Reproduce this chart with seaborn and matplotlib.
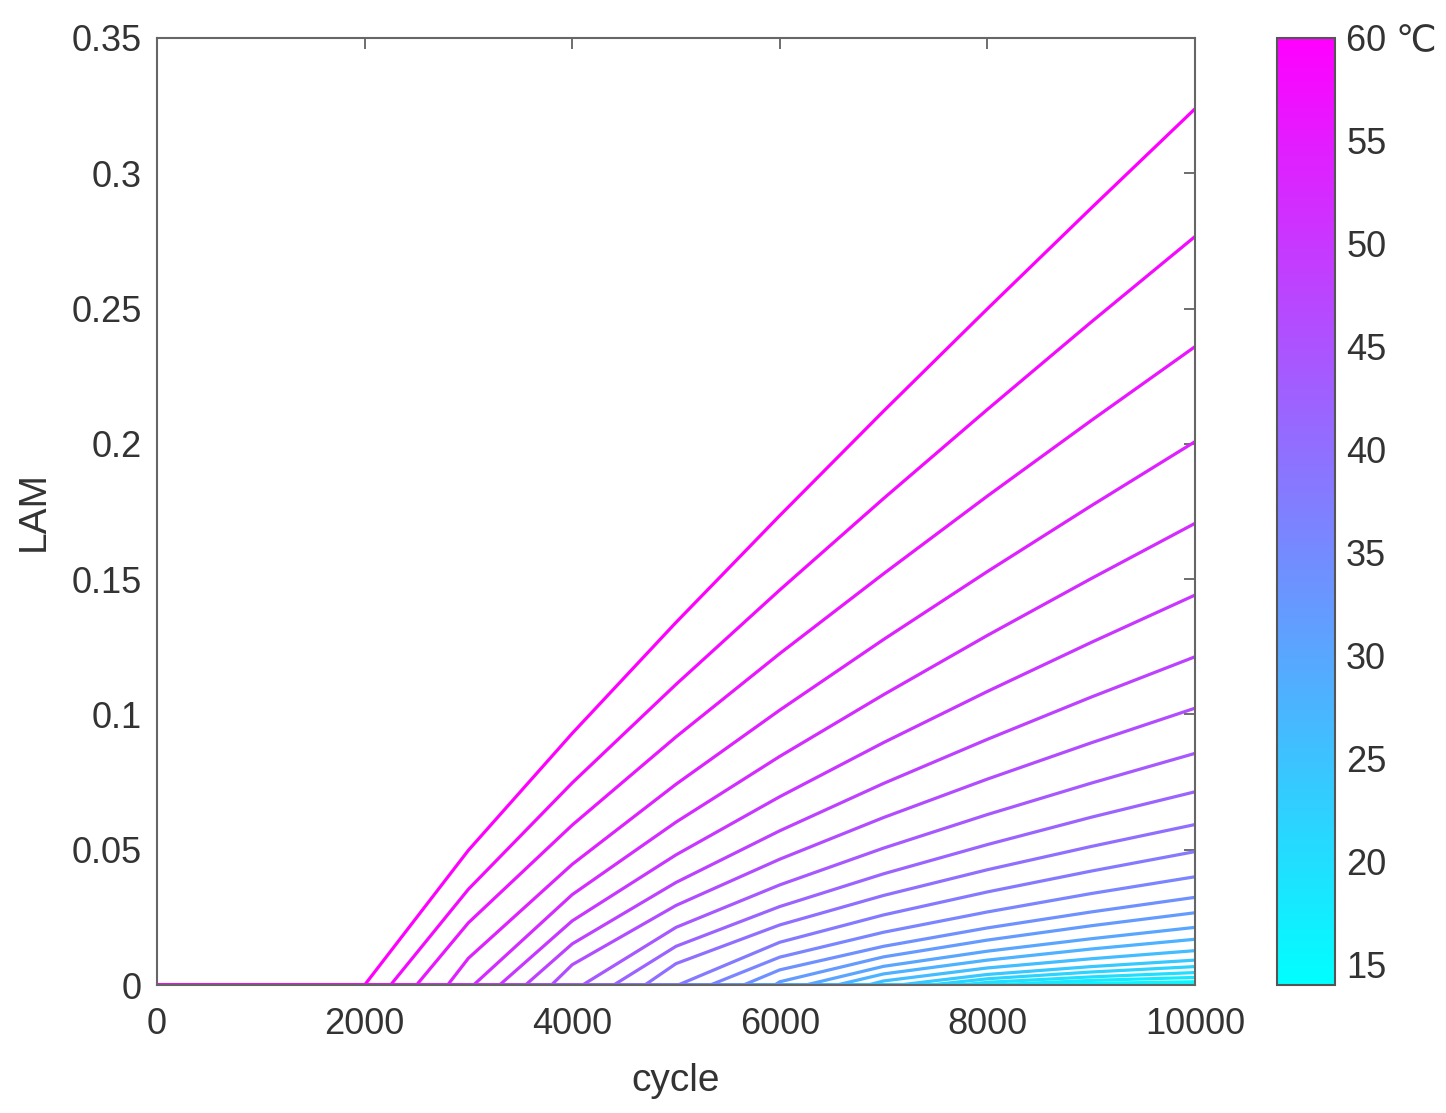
import numpy as np
import pandas as pd
import matplotlib
matplotlib.use("Agg")
import matplotlib.pyplot as plt
import seaborn as sns
from matplotlib.ticker import FuncFormatter

# temperatures (degC), cold -> hot so the hot curves end up on top
temps = [14, 16, 18, 20, 22, 24, 26, 28, 30, 32, 34, 36,
         38, 40, 42, 44, 46, 48, 50, 52, 54, 56, 58, 60]

# cycle where LAM starts to grow for each temperature
onset = [8650, 8350, 8050, 7750, 7450, 7150, 6850, 6550, 6250, 5950, 5650, 5330,
         5020, 4700, 4400, 4100, 3800, 3550, 3300, 3050, 2800, 2500, 2250, 2000]

# LAM read at these cycles (only the ones after onset are listed per curve)
grid = [3000, 4000, 5000, 6000, 7000, 8000, 9000, 10000]

lam_14 = [0.0002, 0.0005]
lam_16 = [0.0006, 0.0012]
lam_18 = [0.0017, 0.0028]
lam_20 = [0.0010, 0.0030, 0.0046]
lam_22 = [0.0023, 0.0048, 0.0068]
lam_24 = [0.0039, 0.0068, 0.0092]
lam_26 = [0.0015, 0.0063, 0.0097, 0.0127]
lam_28 = [0.0041, 0.0092, 0.0133, 0.0169]
lam_30 = [0.0069, 0.0125, 0.0171, 0.0213]
lam_32 = [0.0012, 0.0104, 0.0166, 0.0219, 0.0267]
lam_34 = [0.0056, 0.0143, 0.0211, 0.0270, 0.0324]
lam_36 = [0.0103, 0.0195, 0.0270, 0.0338, 0.0400]
lam_38 = [0.0158, 0.0259, 0.0344, 0.0421, 0.0493]
lam_40 = [0.0079, 0.0222, 0.0331, 0.0426, 0.0512, 0.0593]
lam_42 = [0.0143, 0.0290, 0.0411, 0.0519, 0.0620, 0.0714]
lam_44 = [0.0213, 0.0370, 0.0506, 0.0630, 0.0746, 0.0856]
lam_46 = [0.0075, 0.0294, 0.0465, 0.0619, 0.0761, 0.0895, 0.1023]
lam_48 = [0.0152, 0.0379, 0.0570, 0.0745, 0.0908, 0.1064, 0.1213]
lam_50 = [0.0237, 0.0481, 0.0696, 0.0896, 0.1085, 0.1266, 0.1441]
lam_52 = [0.0334, 0.0602, 0.0845, 0.1073, 0.1292, 0.1502, 0.1706]
lam_54 = [0.0099, 0.0446, 0.0742, 0.1016, 0.1277, 0.1528, 0.1771, 0.2008]
lam_56 = [0.0230, 0.0591, 0.0917, 0.1225, 0.1520, 0.1807, 0.2086, 0.2359]
lam_58 = [0.0354, 0.0747, 0.1111, 0.1460, 0.1798, 0.2127, 0.2450, 0.2766]
lam_60 = [0.0498, 0.0930, 0.1340, 0.1735, 0.2121, 0.2499, 0.2871, 0.3238]

lam_rows = [lam_14, lam_16, lam_18, lam_20, lam_22, lam_24, lam_26, lam_28,
            lam_30, lam_32, lam_34, lam_36, lam_38, lam_40, lam_42, lam_44,
            lam_46, lam_48, lam_50, lam_52, lam_54, lam_56, lam_58, lam_60]

x_ticks = [0, 2000, 4000, 6000, 8000, 10000]
y_ticks = [0, 0.05, 0.1, 0.15, 0.2, 0.25, 0.3, 0.35]
cbar_ticks = [15, 20, 25, 30, 35, 40, 45, 50, 55, 60]
cbar_labels = ["15", "20", "25", "30", "35", "40", "45", "50", "55", "60 \u2103"]
t_min, t_max = 14, 60

# long-format table: flat zero part, then the rising part
records = []
for t, n0, row in zip(temps, onset, lam_rows):
    cyc = [0, n0] + [g for g in grid if g > n0]
    val = [0.0, 0.0] + row
    for c, v in zip(cyc, val):
        records.append({"T": t, "cycle": c, "LAM": v})
df = pd.DataFrame(records)

sns.set_style("white")
plt.rcParams["font.family"] = ["Liberation Sans", "DejaVu Sans"]
ink = "#333333"

fig = plt.figure(figsize=(14.46, 11.13), dpi=100)
ax = fig.add_axes([0.1086, 0.115, 0.7178, 0.8509])
cax = fig.add_axes([0.8831, 0.115, 0.0401, 0.8509])

sns.lineplot(data=df, x="cycle", y="LAM", hue="T", units="T", estimator=None,
             sort=False, palette="cool", hue_norm=(t_min, t_max),
             linewidth=2.3, legend=False, ax=ax)

ax.set_xlim(0, 10000)
ax.set_ylim(0, 0.35)
ax.set_xticks(x_ticks)
ax.set_yticks(y_ticks)
ax.yaxis.set_major_formatter(FuncFormatter(lambda v, _: f"{v:g}"))
ax.tick_params(direction="in", length=8, width=1.2, colors="#555555",
               labelcolor=ink, labelsize=26, top=True, right=True)
ax.tick_params(axis="x", pad=16)
ax.tick_params(axis="y", pad=11)
for s in ax.spines.values():
    s.set_color("#666666")
    s.set_linewidth(1.5)
ax.set_xlabel("cycle", fontsize=28, color=ink, labelpad=15)
ax.set_ylabel("LAM", fontsize=28, color=ink, labelpad=14)

sm = plt.cm.ScalarMappable(cmap="cool", norm=plt.Normalize(t_min, t_max))
cb = fig.colorbar(sm, cax=cax)
cb.set_ticks(cbar_ticks)
cb.set_ticklabels(cbar_labels)
cb.outline.set_edgecolor("#555555")
cb.outline.set_linewidth(1.5)
cax.tick_params(direction="in", length=8, width=1.2, colors="#555555",
                labelcolor=ink, labelsize=26, pad=8)

fig.savefig("out.png", dpi=100)
plt.close(fig)
